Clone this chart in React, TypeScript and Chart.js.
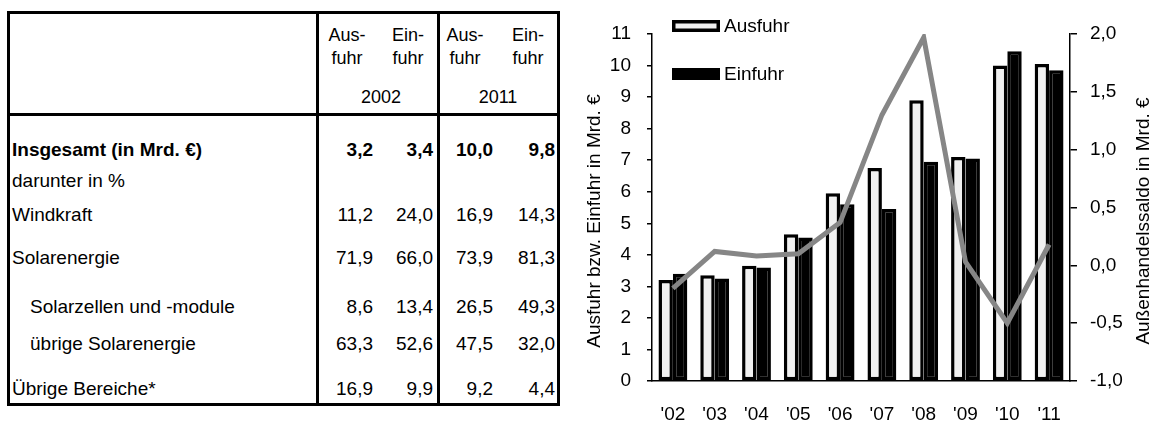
import React, { useEffect, useRef } from "react";
import { Chart, registerables } from "chart.js";

Chart.register(...registerables);

// ---- Chart data ----
const years = ["'02", "'03", "'04", "'05", "'06", "'07", "'08", "'09", "'10", "'11"];
const ausfuhr = [3.2, 3.35, 3.65, 4.65, 5.95, 6.75, 8.9, 7.1, 10.0, 10.05];
const einfuhr = [3.4, 3.25, 3.6, 4.55, 5.6, 5.45, 6.95, 7.05, 10.45, 9.85];
const saldo = [-0.2, 0.12, 0.08, 0.1, 0.37, 1.3, 1.97, 0.03, -0.5, 0.18];
const leftTitle = "Ausfuhr bzw. Einfuhr in Mrd. €";
const rightTitle = "Außenhandelssaldo in Mrd. €";

// ---- Table data ----
const rowLabels = [
  "Insgesamt (in Mrd. €)",
  "darunter in %",
  "Windkraft",
  "Solarenergie",
  "Solarzellen und -module",
  "übrige Solarenergie",
  "Übrige Bereiche*",
];
const ausfuhr2002 = [3.2, null, 11.2, 71.9, 8.6, 63.3, 16.9];
const einfuhr2002 = [3.4, null, 24.0, 66.0, 13.4, 52.6, 9.9];
const ausfuhr2011 = [10.0, null, 16.9, 73.9, 26.5, 47.5, 9.2];
const einfuhr2011 = [9.8, null, 14.3, 81.3, 49.3, 32.0, 4.4];
const headerYears = ["2002", "2011"];
const headerAus = ["Aus-", "fuhr"];
const headerEin = ["Ein-", "fuhr"];

const FONT = '"Liberation Sans", Arial, Helvetica, sans-serif';
const fmt = (v: number | null) => (v === null ? "" : v.toFixed(1).replace(".", ","));

// layout (page coordinates)
const rowY = [150, 181, 215, 258, 307, 344, 389];
const rowIndent = [12, 12, 12, 12, 30, 30, 12];
const rowBold = [true, false, false, false, false, false, false];
const numRight = [373, 433, 493, 555];
const hdrCenters = [347, 408, 465, 528];
const yearCenters = [381, 498];

const overlayPlugin = {
  id: "overlay",
  afterDraw(chart: any) {
    const ctx = chart.ctx as CanvasRenderingContext2D;
    ctx.save();
    ctx.font = `19px ${FONT}`;
    ctx.fillStyle = "#000";
    ctx.textAlign = "center";
    ctx.textBaseline = "middle";
    // axis titles
    ctx.save();
    ctx.translate(25, 221);
    ctx.rotate(-Math.PI / 2);
    ctx.fillText(leftTitle, 0, 0);
    ctx.restore();
    ctx.save();
    ctx.translate(574, 221);
    ctx.rotate(-Math.PI / 2);
    ctx.fillText(rightTitle, 0, 0);
    ctx.restore();
    // legend
    const bars = chart.data.datasets.filter((d: any) => d.type === "bar");
    bars.forEach((d: any, i: number) => {
      const y = 20 + i * 48;
      ctx.fillStyle = "#000";
      ctx.fillRect(102, y, 48, 12);
      ctx.fillStyle = d.backgroundColor;
      ctx.fillRect(105.5, y + 3.5, 41, 5);
      ctx.fillStyle = "#000";
      ctx.textAlign = "left";
      ctx.fillText(d.label, 154, y + 6.5);
    });
    ctx.restore();
  },
};

function ChartPanel() {
  const ref = useRef<HTMLCanvasElement | null>(null);
  useEffect(() => {
    if (!ref.current) return;
    const font = { family: FONT, size: 19 };
    const chart = new Chart(ref.current, {
      type: "bar",
      data: {
        labels: years,
        datasets: [
          {
            type: "line",
            label: "Saldo",
            data: saldo,
            yAxisID: "y1",
            borderColor: "#868686",
            borderWidth: 5,
            pointRadius: 0,
            tension: 0,
            fill: false,
            order: 0,
          } as any,
          {
            type: "bar",
            label: "Ausfuhr",
            data: ausfuhr,
            yAxisID: "y",
            backgroundColor: "#f0f0f0",
            borderColor: "#000",
            borderWidth: 3.5,
            borderSkipped: false,
            categoryPercentage: 0.69,
            barPercentage: 1,
            order: 1,
          },
          {
            type: "bar",
            label: "Einfuhr",
            data: einfuhr,
            yAxisID: "y",
            backgroundColor: "#000",
            borderColor: "#000",
            borderWidth: 3.5,
            borderSkipped: false,
            categoryPercentage: 0.69,
            barPercentage: 1,
            order: 2,
          },
        ],
      },
      options: {
        responsive: false,
        animation: false,
        layout: { padding: { top: 34, left: 0, right: 0, bottom: 0 } },
        plugins: { legend: { display: false }, tooltip: { enabled: false } },
        scales: {
          x: {
            grid: { display: false, drawTicks: false },
            border: { display: true, color: "#000", width: 1.5 },
            ticks: { font, color: "#000", padding: 22, maxRotation: 0, autoSkip: false },
            afterFit: (s: any) => {
              s.height = 40;
            },
          },
          y: {
            position: "left",
            min: 0,
            max: 11,
            ticks: { stepSize: 1, font, color: "#000", padding: 16 },
            grid: { drawOnChartArea: false, drawTicks: true, tickLength: 5, color: "#000", lineWidth: 1.5 },
            border: { display: true, color: "#000", width: 1.5 },
            afterFit: (s: any) => {
              s.width = 82;
            },
          },
          y1: {
            position: "right",
            min: -1,
            max: 2,
            ticks: {
              stepSize: 0.5,
              font,
              color: "#000",
              padding: 13,
              callback: (v: any) => Number(v).toFixed(1).replace(".", ","),
            },
            grid: { drawOnChartArea: false, drawTicks: true, tickLength: 7, color: "#000", lineWidth: 1.5 },
            border: { display: true, color: "#000", width: 1.5 },
            afterFit: (s: any) => {
              s.width = 83;
            },
          },
        },
      },
      plugins: [overlayPlugin],
    });
    return () => chart.destroy();
  }, []);
  return (
    <canvas
      ref={ref}
      width={583}
      height={421}
      style={{ position: "absolute", left: 570, top: 0, width: 583, height: 421 }}
    />
  );
}

function Line({ x, y, w, h }: { x: number; y: number; w: number; h: number }) {
  return <div style={{ position: "absolute", left: x, top: y, width: w, height: h, background: "#000" }} />;
}

function Txt({
  x,
  y,
  children,
  align = "left",
  bold = false,
  size = 19,
}: {
  x: number;
  y: number;
  children: React.ReactNode;
  align?: "left" | "right" | "center";
  bold?: boolean;
  size?: number;
}) {
  const w = 300;
  const left = align === "left" ? x : align === "right" ? x - w : x - w / 2;
  return (
    <div
      style={{
        position: "absolute",
        left,
        top: y - 12,
        width: w,
        height: 24,
        lineHeight: "24px",
        fontSize: size,
        fontWeight: bold ? "bold" : "normal",
        textAlign: align,
        whiteSpace: "nowrap",
        color: "#000",
      }}
    >
      {children}
    </div>
  );
}

function Table() {
  const cols = [ausfuhr2002, einfuhr2002, ausfuhr2011, einfuhr2011];
  return (
    <>
      {/* borders */}
      <Line x={7} y={11} w={553} h={3} />
      <Line x={7} y={113} w={553} h={3} />
      <Line x={7} y={403} w={553} h={3} />
      <Line x={7} y={11} w={3} h={395} />
      <Line x={316} y={11} w={3} h={395} />
      <Line x={437} y={11} w={3} h={395} />
      <Line x={557} y={11} w={3} h={395} />
      {/* header */}
      {hdrCenters.map((c, i) => {
        const h = i % 2 === 0 ? headerAus : headerEin;
        return (
          <React.Fragment key={"h" + i}>
            <Txt x={c} y={35} align="center" size={18}>
              {h[0]}
            </Txt>
            <Txt x={c} y={58} align="center" size={18}>
              {h[1]}
            </Txt>
          </React.Fragment>
        );
      })}
      {headerYears.map((yr, i) => (
        <Txt key={yr} x={yearCenters[i]} y={97} align="center" size={18}>
          {yr}
        </Txt>
      ))}
      {/* rows */}
      {rowLabels.map((lab, r) => (
        <React.Fragment key={"r" + r}>
          <Txt x={rowIndent[r]} y={rowY[r]} bold={rowBold[r]}>
            {lab}
          </Txt>
          {cols.map((col, c) => (
            <Txt key={c} x={numRight[c]} y={rowY[r]} align="right" bold={rowBold[r]}>
              {fmt(col[r])}
            </Txt>
          ))}
        </React.Fragment>
      ))}
    </>
  );
}

export default function App() {
  return (
    <div
      style={{
        position: "absolute",
        left: 0,
        top: 0,
        width: 1153,
        height: 421,
        background: "#fff",
        fontFamily: FONT,
        overflow: "hidden",
      }}
    >
      <Table />
      <ChartPanel />
    </div>
  );
}
